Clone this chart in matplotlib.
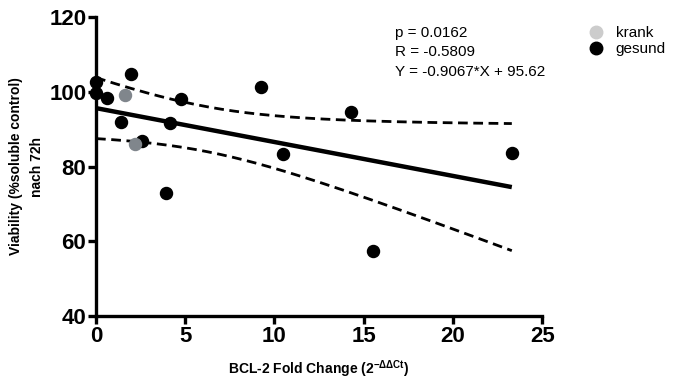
import matplotlib
matplotlib.use("Agg")
import matplotlib.pyplot as plt
from matplotlib.lines import Line2D
import numpy as np

plt.rcParams['font.family'] = ['Liberation Sans', 'DejaVu Sans']
plt.rcParams['mathtext.fontset'] = 'custom'
plt.rcParams['mathtext.rm'] = 'Liberation Sans'
plt.rcParams['mathtext.bf'] = 'Liberation Sans:bold'
plt.rcParams['mathtext.it'] = 'Liberation Sans:italic'
plt.rcParams['axes.unicode_minus'] = False

# gesund (healthy) samples
gesund_x = [0.0, 0.0, 0.6, 1.96, 1.4, 2.6, 4.76, 4.15, 3.9, 9.25, 10.5, 14.3, 15.5, 23.3]
gesund_y = [102.6, 99.6, 98.3, 104.8, 91.9, 86.8, 98.1, 91.7, 72.9, 101.3, 83.4, 94.6, 57.4, 83.6]
# krank (sick) samples
krank_x = [1.6, 2.2]
krank_y = [99.1, 86.0]

slope = -0.9067
intercept = 95.62
stats_lines = ["p = 0.0162", "R = -0.5809", "Y = -0.9067*X + 95.62"]

# 95% confidence band of the fit
all_x = np.array(gesund_x + krank_x)
all_y = np.array(gesund_y + krank_y)
n = len(all_x)
resid = all_y - (slope * all_x + intercept)
s = np.sqrt(np.sum(resid ** 2) / (n - 2))
t_crit = 2.145  # t(0.975, 14)
xbar = all_x.mean()
sxx = np.sum((all_x - xbar) ** 2)
xs = np.linspace(0, all_x.max(), 200)
fit = slope * xs + intercept
half = t_crit * s * np.sqrt(1.0 / n + (xs - xbar) ** 2 / sxx)

fig = plt.figure(figsize=(6.76, 3.85), dpi=100)
ax = fig.add_axes([0.142, 0.179, 0.66, 0.777])

ax.plot(xs, fit, color='black', lw=3.2, solid_capstyle='butt')
ax.plot(xs, fit + half, color='black', lw=2, ls=(0, (3.5, 2)))
ax.plot(xs, fit - half, color='black', lw=2, ls=(0, (3.5, 2)))

ax.scatter(gesund_x, gesund_y, s=75, color='black', zorder=5, clip_on=False)
ax.scatter(krank_x, krank_y, s=75, color='#80868c', zorder=5, clip_on=False)

ax.set_xlim(0, 25)
ax.set_ylim(40, 120)
ax.set_xticks([0, 5, 10, 15, 20, 25])
ax.set_yticks([40, 60, 80, 100, 120])
for sp in ['top', 'right']:
    ax.spines[sp].set_visible(False)
for sp in ['left', 'bottom']:
    ax.spines[sp].set_linewidth(2.4)
ax.tick_params(width=2.4, length=6, labelsize=16, pad=1)
for lab in ax.get_xticklabels() + ax.get_yticklabels():
    lab.set_fontweight('bold')

ax.set_xlabel(r'BCL-2 Fold Change (2$^{\mathbf{-\Delta\Delta Ct}}$)',
              fontsize=10, fontweight='bold', labelpad=8)
ax.set_ylabel('Viability (%soluble control)\nnach 72h', fontsize=10,
              fontweight='bold', labelpad=4, linespacing=1.6)

for i, t in enumerate(stats_lines):
    fig.text(395 / 676, 1 - (33 + 19.5 * i) / 385, t, fontsize=11,
             ha='left', va='center')

handles = [Line2D([], [], marker='o', ls='', color='#cccccc', markersize=9),
           Line2D([], [], marker='o', ls='', color='black', markersize=9)]
fig.legend(handles, ['krank', 'gesund'], loc='upper left',
           bbox_to_anchor=(582 / 676, 1 - 20 / 385), frameon=False,
           fontsize=11, handletextpad=0.8, labelspacing=0.15,
           borderaxespad=0, handlelength=1.0)

fig.savefig('out.png', dpi=100)
